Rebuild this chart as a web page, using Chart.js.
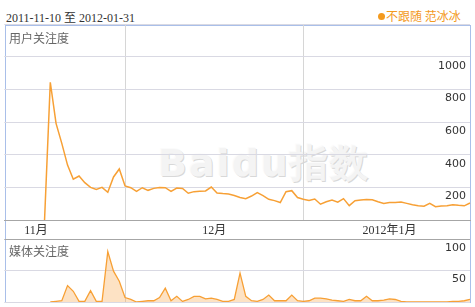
<!DOCTYPE html>
<html>
<head>
<meta charset="utf-8">
<script src="https://cdn.jsdelivr.net/npm/chart.js@4.4.1/dist/chart.umd.min.js"></script>
<style>
body { margin: 0; background: #fff; }
#wrap { position: relative; width: 475px; height: 307px; overflow: hidden; }
#range { position: absolute; left: 6px; top: 8px; font: 12px "Liberation Serif", "Noto Sans CJK SC", serif; color: #333; }
#legend { position: absolute; left: 378px; top: 8px; font: 12px "Noto Sans CJK SC", sans-serif; color: #f39a1e; line-height: 16px; }
#legend .dot { display: inline-block; width: 7px; height: 7px; border-radius: 50%; background: #f39a1e; margin-right: 1px; vertical-align: 1px; }
#box { position: absolute; left: 5px; top: 25px; width: 464px; height: 276px; border: 1px solid #a9bfe9; }
.panelName { position: absolute; left: 9px; font: 12px "Noto Sans CJK SC", sans-serif; color: #666; }
#mark { position: absolute; left: 158px; top: 138px; font: bold 38px "DejaVu Sans", sans-serif; color: #f4f4f4; text-shadow: 1px 1px 0 #d8d8d8, -1px -1px 0 #fbfbfb; letter-spacing: 2px; }
canvas { position: absolute; left: 0; }
</style>
</head>
<body>
<div id="wrap">
  <div id="box"></div>
  <div id="mark">Baidu指数</div>
  <div id="range">2011-11-10 至 2012-01-31</div>
  <div id="legend"><span class="dot"></span>不跟随 范冰冰</div>
  <canvas id="userChart" width="475" height="240" style="top:0"></canvas>
  <canvas id="mediaChart" width="475" height="73" style="top:234px"></canvas>
  <div class="panelName" style="top:29px">用户关注度</div>
  <div class="panelName" style="top:242px">媒体关注度</div>
</div>
<script>
const days = [
  "11-10","11-11","11-12","11-13","11-14","11-15","11-16","11-17","11-18","11-19","11-20",
  "11-21","11-22","11-23","11-24","11-25","11-26","11-27","11-28","11-29","11-30",
  "12-01","12-02","12-03","12-04","12-05","12-06","12-07","12-08","12-09","12-10",
  "12-11","12-12","12-13","12-14","12-15","12-16","12-17","12-18","12-19","12-20",
  "12-21","12-22","12-23","12-24","12-25","12-26","12-27","12-28","12-29","12-30","12-31",
  "01-01","01-02","01-03","01-04","01-05","01-06","01-07","01-08","01-09","01-10",
  "01-11","01-12","01-13","01-14","01-15","01-16","01-17","01-18","01-19","01-20",
  "01-21","01-22","01-23","01-24","01-25","01-26","01-27","01-28","01-29","01-30"
];

const userIndex = [
  null, null, null, null, null, null, null, 0, 845, 593, 470, 337, 250, 270, 229, 200, 188, 200, 170, 264, 313,
  209, 198, 176, 198, 182, 194, 200, 198, 176, 196, 194, 164, 174, 176, 178, 202, 166, 162, 160, 150,
  138, 131, 147, 168, 150, 127, 119, 107, 174, 180, 138,
  127, 120, 129, 97, 112, 123, 109, 131, 88, 118, 122, 125, 124, 112, 102, 107, 108, 110, 102,
  93, 88, 85, 102, 82, 86, 88, 94, 90, 87, 104
];

const mediaIndex = [
  null, null, null, null, null, null, null, null, 0, 1, 2, 26, 17, 1, 1, 18, 1, 1, 80, 49, 33,
  7, 4, 0, 1, 2, 2, 7, 22, 2, 9, 1, 4, 9, 9, 5, 6, 4, 1, 1, 4,
  46, 9, 2, 1, 4, 11, 2, 2, 2, 11, 2,
  1, 2, 6, 6, 5, 3, 2, 1, 4, 2, 2, 9, 2, 2, 3, 5, 4, 1, 0,
  0, 0, 0, 0, 0, 0, 0, 1, 1, 2, 4
];

const monthStarts = [21, 52];
const monthNames = ["11月", "12月", "2012年1月"];
const monthLabelAt = [5.5, 36.5, 67];
const userTicks = [0, 200, 400, 600, 800, 1000, 1200];
const userTickLabels = [200, 400, 600, 800, 1000];
const mediaTicks = [0, 50, 100];
const mediaTickLabels = [50, 100];

const lineColor = "#f7a035";
const gridColor = "#d9d9e3";

// vertical lines at the first day of each month
function monthGrid(dash) {
  return {
    type: "category",
    ticks: { display: false },
    grid: { color: "#d6d6d6", drawTicks: false, borderDash: dash, tickBorderDash: dash },
    border: { color: "#a6a6a6" },
    afterBuildTicks: s => { s.ticks = monthStarts.map(v => ({ value: v })); },
    afterFit: s => { s.height = 0; s.paddingLeft = 0; s.paddingRight = 0; }
  };
}

// value labels sit inside the plot, just under their grid line
function valueAxis(ticks, shown) {
  return {
    position: "right",
    min: ticks[0],
    max: ticks[ticks.length - 1],
    ticks: {
      autoSkip: false,
      mirror: true,
      padding: -4,
      labelOffset: 9,
      color: "#333",
      font: { family: "DejaVu Sans", size: 11 },
      callback: v => shown.includes(v) ? String(v) : ""
    },
    grid: { color: gridColor, drawTicks: false },
    border: { display: false },
    afterBuildTicks: s => { s.ticks = ticks.map(v => ({ value: v })); },
    afterFit: s => { s.width = 0; s.paddingTop = 0; s.paddingBottom = 0; }
  };
}

new Chart(document.getElementById("userChart"), {
  type: "line",
  data: {
    labels: days,
    datasets: [{
      label: "不跟随 范冰冰",
      data: userIndex,
      borderColor: lineColor,
      borderWidth: 1.5,
      pointRadius: 0,
      tension: 0,
      fill: false
    }]
  },
  options: {
    responsive: false,
    animation: false,
    devicePixelRatio: 1,
    layout: { padding: { left: 4.3, right: 5, top: 24.4, bottom: 0 } },
    plugins: { legend: { display: false }, tooltip: { enabled: false } },
    scales: {
      x: monthGrid([]),
      xl: {
        type: "linear",
        position: "bottom",
        min: 0,
        max: days.length - 1,
        grid: { display: false, drawTicks: false },
        border: { display: false },
        ticks: {
          autoSkip: false,
          maxRotation: 0,
          padding: 4,
          color: "#333",
          font: { family: "'Liberation Serif', 'Noto Sans CJK SC'", size: 12 },
          callback: (v, i) => monthNames[i]
        },
        afterBuildTicks: s => { s.ticks = monthLabelAt.map(v => ({ value: v })); },
        afterFit: s => { s.height = 20; s.paddingLeft = 0; s.paddingRight = 0; }
      },
      y: valueAxis(userTicks, userTickLabels)
    }
  }
});

const mediaY = valueAxis(mediaTicks, mediaTickLabels);
mediaY.grid.color = c => c.tick && c.tick.value === 100 ? "#a6a6a6" : gridColor;

new Chart(document.getElementById("mediaChart"), {
  type: "line",
  data: {
    labels: days,
    datasets: [{
      label: "不跟随 范冰冰",
      data: mediaIndex,
      borderColor: lineColor,
      backgroundColor: "rgba(248, 165, 70, 0.32)",
      borderWidth: 1.3,
      pointRadius: 0,
      tension: 0,
      fill: "origin"
    }]
  },
  options: {
    responsive: false,
    animation: false,
    devicePixelRatio: 1,
    layout: { padding: { left: 4.3, right: 5, top: 5, bottom: 5 } },
    plugins: { legend: { display: false }, tooltip: { enabled: false } },
    scales: {
      x: Object.assign(monthGrid([2, 2]), { border: { display: false } }),
      y: mediaY
    }
  }
});
</script>
</body>
</html>
